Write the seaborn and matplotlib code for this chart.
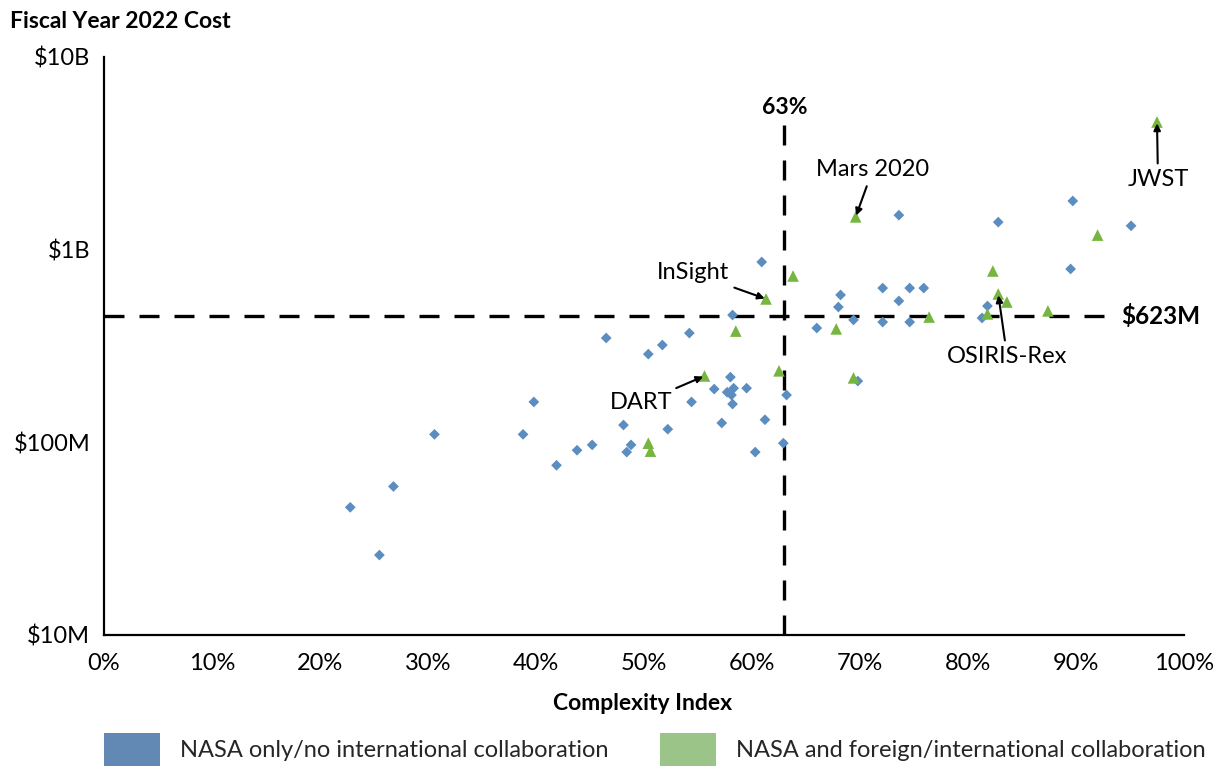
import numpy as np
import pandas as pd
import matplotlib
matplotlib.use("Agg")
import matplotlib.pyplot as plt
import seaborn as sns
from matplotlib.patches import Patch

# ---------------- data ----------------
group_names = ["NASA only/no international collaboration",
               "NASA and foreign/international collaboration"]

nasa_only_complexity = [22.8, 25.5, 26.8, 30.6, 38.8, 39.8, 41.9, 43.8, 45.2, 46.5,
                        48.1, 48.4, 48.8, 50.4, 51.7, 52.2, 54.2, 54.4, 56.5, 57.2,
                        57.7, 58.0, 58.1, 58.2, 58.2, 58.3, 59.5, 60.3, 60.9, 61.2,
                        62.9, 63.2, 66.0, 68.0, 68.2, 69.4, 69.8, 72.1, 72.1, 73.6,
                        73.6, 74.6, 74.6, 75.9, 81.3, 81.8, 82.8, 89.5, 89.7, 95.1]
nasa_only_cost_musd = [46, 26, 59, 110, 110, 162, 76, 91, 97, 348,
                       123, 89, 97, 287, 320, 117, 369, 162, 189, 126,
                       182, 218, 176, 158, 458, 191, 191, 89, 863, 131,
                       99, 176, 392, 504, 582, 432, 208, 632, 421, 1510,
                       542, 632, 421, 632, 442, 510, 1390, 794, 1790, 1330]

intl_complexity = [50.4, 50.6, 55.6, 58.5, 61.3, 62.5, 63.8, 67.8, 69.4, 69.6,
                   76.4, 81.8, 82.3, 82.8, 83.6, 87.4, 92.0, 97.5]
intl_cost_musd = [99, 90, 221, 378, 555, 235, 730, 388, 216, 1480,
                  447, 464, 775, 589, 535, 481, 1190, 4600]

# labelled missions (index into the international series)
labelled_names = ["DART", "InSight", "Mars 2020", "OSIRIS-Rex", "JWST"]
labelled_index = [2, 4, 9, 13, 17]

complexity_threshold = 63          # percent
cost_threshold_musd = 453          # where the reference line is drawn
threshold_labels = ["63%", "$623M"]

x_ticks = [0, 10, 20, 30, 40, 50, 60, 70, 80, 90, 100]
x_tick_labels = [f"{v}%" for v in x_ticks]
y_ticks = [1e7, 1e8, 1e9, 1e10]
y_tick_labels = ["$10M", "$100M", "$1B", "$10B"]

# ---------------- styling ----------------
sns.set_theme(style="white")
plt.rcParams["font.family"] = ["Lato", "DejaVu Sans"]

blue_marker = "#5B8DC0"
green_marker = "#76B640"
blue_patch = "#6189B4"
green_patch = "#9BC588"
FS = 17
FSB = 16.5

df = pd.DataFrame({
    "complexity": nasa_only_complexity + intl_complexity,
    "cost": [v * 1e6 for v in nasa_only_cost_musd + intl_cost_musd],
    "group": [group_names[0]] * len(nasa_only_complexity) + [group_names[1]] * len(intl_complexity),
})

W, H = 1221, 770
fig = plt.figure(figsize=(W / 100, H / 100), dpi=100)
ax = fig.add_axes([104 / W, 1 - 635 / H, 1080 / W, 578 / H])

sns.scatterplot(data=df[df.group == group_names[0]], x="complexity", y="cost",
                color=blue_marker, marker="D", s=30, edgecolor="none", ax=ax, zorder=3)
sns.scatterplot(data=df[df.group == group_names[1]], x="complexity", y="cost",
                color=green_marker, marker="^", s=70, edgecolor="none", ax=ax, zorder=4)

ax.set_yscale("log")
ax.set_xlim(0, 100)
ax.set_ylim(1e7, 1e10)
ax.set_xticks(x_ticks)
ax.set_xticklabels(x_tick_labels)
ax.set_yticks(y_ticks)
ax.set_yticklabels(y_tick_labels)
ax.minorticks_off()
ax.tick_params(axis="both", length=0, labelsize=FS, colors="black")
ax.tick_params(axis="x", pad=13)
ax.tick_params(axis="y", pad=10)
ax.set_xlabel("")
ax.set_ylabel("")
for s in ["top", "right"]:
    ax.spines[s].set_visible(False)
for s in ["left", "bottom"]:
    ax.spines[s].set_color("black")
    ax.spines[s].set_linewidth(1.6)

# threshold lines
ax.axvline(complexity_threshold, ymin=0, ymax=(635 - 120) / 578, color="black",
           lw=2.4, dashes=(6, 4.5), zorder=2)
ax.axhline(cost_threshold_musd * 1e6, xmin=0, xmax=0.936, color="black",
           lw=2.4, dashes=(6, 4.5), zorder=2)
ax.text(complexity_threshold, (635 - 107) / 578, threshold_labels[0],
        transform=ax.get_xaxis_transform(), ha="center", va="center",
        fontsize=FSB, fontweight="bold", color="black")
ax.text((1121 - 104) / 1080, cost_threshold_musd * 1e6, threshold_labels[1],
        transform=ax.get_yaxis_transform(), ha="left", va="center",
        fontsize=17.5, fontweight="bold", color="black")

# annotations
offsets = {"DART": (-63, -27), "InSight": (-73, 26), "Mars 2020": (17, 47),
           "OSIRIS-Rex": (9, -63), "JWST": (1, -58)}
for name, idx in zip(labelled_names, labelled_index):
    px, py = intl_complexity[idx], intl_cost_musd[idx] * 1e6
    ax.annotate(name, xy=(px, py), xytext=offsets[name], textcoords="offset pixels",
                ha="center", va="center", fontsize=FS, color="black",
                arrowprops=dict(arrowstyle="-|>", color="black", lw=1.5,
                                shrinkA=2, shrinkB=1, mutation_scale=10),
                zorder=5)

# titles
fig.text(10 / W, 1 - 22 / H, "Fiscal Year 2022 Cost", ha="left", va="center",
         fontsize=FSB, fontweight="bold", color="black")
fig.text(643 / W, 1 - 704 / H, "Complexity Index", ha="center", va="center",
         fontsize=FSB, fontweight="bold", color="black")

# legend
handles = [Patch(facecolor=blue_patch, edgecolor="none"),
           Patch(facecolor=green_patch, edgecolor="none")]
fig.legend(handles, group_names, loc="upper left",
           bbox_to_anchor=(104 / W, 1 - 733 / H), ncol=2, frameon=False,
           fontsize=FS, handlelength=2.37, handleheight=1.75, handletextpad=0.85,
           columnspacing=2.2, borderpad=0, borderaxespad=0)

fig.savefig("out.png", dpi=100)
